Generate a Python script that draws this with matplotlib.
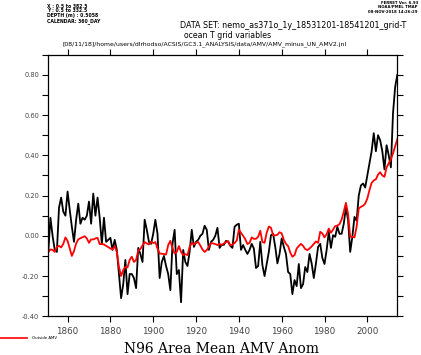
import matplotlib
matplotlib.use('Agg')
import matplotlib.pyplot as plt
from matplotlib.lines import Line2D
from matplotlib.ticker import MultipleLocator, FormatStrFormatter
import numpy as np

# years of the series (annual means)
years = np.arange(1851, 2015)

# N96 area mean AMV anomaly (black)
amv_anom = [
    -0.08, 0.09, 0.00, -0.07, -0.08, 0.14, 0.19, 0.12, 0.10, 0.22,
    0.13, 0.045, -0.03, 0.08, 0.16, 0.06, 0.09, 0.08, 0.10, 0.17,
    0.06, 0.21, 0.10, 0.19, 0.09, -0.04, 0.09, -0.03, -0.02, -0.01,
    -0.07, -0.02, -0.07, -0.19, -0.31, -0.24, -0.12, -0.29, -0.19, -0.19,
    -0.21, -0.26, -0.06, -0.09, -0.13, 0.08, 0.03, -0.03, -0.04, 0.01,
    0.08, 0.01, -0.21, -0.13, -0.10, -0.15, -0.19, -0.27, -0.04, 0.03,
    -0.19, -0.17, -0.33, -0.07, -0.13, -0.15, -0.08, 0.03, -0.055, -0.03,
    -0.02, 0.00, 0.01, 0.05, 0.03, -0.07, -0.03, -0.02, 0.00, 0.04,
    -0.06, -0.045, -0.045, -0.025, -0.03, -0.05, -0.06, 0.045, 0.055, 0.06,
    -0.07, -0.046, -0.07, -0.09, -0.07, -0.04, -0.063, -0.16, -0.15, -0.03,
    -0.146, -0.20, -0.14, -0.08, 0.003, 0.01, -0.055, -0.137, -0.09, -0.013,
    -0.055, -0.09, -0.18, -0.19, -0.29, -0.22, -0.25, -0.14, -0.26, -0.24,
    -0.155, -0.18, -0.09, -0.137, -0.21, -0.137, -0.055, -0.04, -0.11, -0.14,
    -0.07, 0.02, -0.06, 0.003, -0.005, 0.045, 0.01, 0.01, 0.06, 0.14,
    0.08, -0.08, -0.005, 0.094, 0.075, 0.20, 0.25, 0.26, 0.24, 0.30,
    0.36, 0.42, 0.51, 0.42, 0.50, 0.475, 0.42, 0.33, 0.45, 0.40,
    0.34, 0.61, 0.74, 0.80,
]

# Outside AMV (red)
outside_amv = [
    -0.08, -0.068, -0.07, -0.08, -0.055, -0.05, -0.058, -0.04, -0.008, -0.025,
    -0.063, -0.10, -0.076, -0.038, -0.018, -0.012, -0.007, -0.002, -0.013, -0.035,
    -0.018, -0.018, -0.013, -0.01, -0.041, -0.041, -0.043, -0.05, -0.056, -0.063,
    -0.068, -0.051, -0.08, -0.154, -0.20, -0.17, -0.155, -0.157, -0.12, -0.104,
    -0.13, -0.12, -0.074, -0.065, -0.048, -0.031, -0.038, -0.043, -0.03, -0.036,
    -0.031, -0.063, -0.088, -0.089, -0.091, -0.093, -0.046, -0.025, -0.06, -0.088,
    -0.08, -0.051, -0.08, -0.096, -0.091, -0.096, -0.055, -0.035, -0.043, -0.035,
    -0.031, -0.048, -0.068, -0.08, -0.071, -0.055, -0.036, -0.038, -0.041, -0.046,
    -0.04, -0.045, -0.038, -0.031, -0.026, -0.048, -0.043, -0.036, -0.023, 0.03,
    0.015, 0.0, -0.017, -0.041, -0.035, -0.008, -0.015, -0.015, -0.005, 0.025,
    -0.03, -0.035, 0.015, 0.046, 0.04, 0.003, 0.002, 0.005, 0.018, 0.012,
    -0.02, -0.04, -0.051, -0.083, -0.104, -0.096, -0.063, -0.051, -0.04, -0.05,
    -0.066, -0.071, -0.063, -0.053, -0.04, -0.028, -0.035, 0.02, 0.012, -0.008,
    0.008, 0.036, 0.015, 0.031, 0.048, 0.051, 0.058, 0.081, 0.12, 0.164,
    0.11, -0.005, -0.005, -0.008, 0.045, 0.136, 0.144, 0.149, 0.16, 0.185,
    0.227, 0.263, 0.275, 0.281, 0.304, 0.316, 0.30, 0.293, 0.34, 0.36,
    0.38, 0.41, 0.445, 0.48,
]

xticks = [1860, 1880, 1900, 1920, 1940, 1960, 1980, 2000]

W, H = 421, 355
fig = plt.figure(figsize=(W / 100, H / 100), dpi=100)
ax = fig.add_axes([48.3 / W, 1 - 316.3 / H, (397.3 - 48.3) / W, (316.3 - 54.7) / H])

ax.plot(years, amv_anom, color='black', lw=1.3)
ax.plot(years, outside_amv, color='#ff0000', lw=1.3)

ax.set_xlim(1851, 2014)
ax.set_ylim(-0.4, 0.9)
ax.set_xticks(xticks)
ax.yaxis.set_major_locator(MultipleLocator(0.2))
ax.yaxis.set_minor_locator(MultipleLocator(0.1))
ax.yaxis.set_major_formatter(FormatStrFormatter('%.2f'))

for s in ax.spines.values():
    s.set_linewidth(0.9)
ax.tick_params(axis='both', which='both', direction='out', width=0.8, length=4.5,
               colors='black', labelcolor='#444444')
ax.tick_params(axis='x', top=True, labelsize=6.3, pad=3)
ax.tick_params(axis='y', which='both', right=True, labelsize=4.8, pad=2)

# header text (Ferret style)
hdr = dict(fontsize=3.3, fontweight='bold', ha='left', va='center')
for i, line in enumerate(['X : 0.5 to 382.5', 'Y : 0.5 to 332.5',
                          'DEPTH (m) : 0.5058', 'CALENDAR: 360_DAY']):
    fig.text(47 / W, 1 - (6 + 5 * i) / H, line, **hdr)
for i, line in enumerate(['FERRET Ver. 6.93', 'NOAA/PMEL TMAP',
                          '08-NOV-2018 14:26:29']):
    fig.text(418 / W, 1 - (3 + 4.5 * i) / H, line, fontsize=2.8,
             fontweight='bold', ha='right', va='center')

fig.text(180 / W, 1 - 25 / H,
         'DATA SET: nemo_as371o_1y_18531201-18541201_grid-T',
         fontsize=5.8, ha='left', va='center')
fig.text(228 / W, 1 - 36 / H, 'ocean T grid variables',
         fontsize=5.6, ha='center', va='center')
fig.text(205 / W, 1 - 44 / H,
         '[08/11/18]/home/users/dlrhodso/ACSIS/GC3.1_ANALYSIS/data/AMV/AMV_minus_UN_AMV2.jnl',
         fontsize=4.4, ha='center', va='center')

# legend key below the plot
fig.add_artist(Line2D([0, 27 / W], [1 - 338 / H] * 2, color='#ff0000', lw=1.2))
fig.text(32 / W, 1 - 338 / H, 'Outside AMV', fontsize=2.8, ha='left', va='center')

fig.text(222 / W, 1 - 342 / H, 'N96 Area Mean AMV Anom', family='DejaVu Serif',
         fontsize=10, ha='center', va='top')

fig.savefig('out.png', dpi=100)
